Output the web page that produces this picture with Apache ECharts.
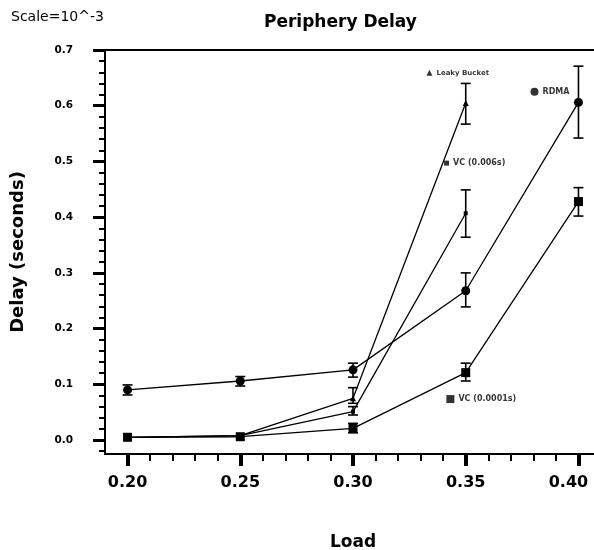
<!DOCTYPE html>
<html>
<head>
<meta charset="utf-8">
<script src="https://cdn.jsdelivr.net/npm/echarts@6/dist/echarts.min.js"></script>
<style>html,body{margin:0;padding:0;background:#fff}#c{width:594px;height:550px}</style>
</head>
<body>
<div id="c"></div>
<script>
// ---- data ----
const loads = [0.20, 0.25, 0.30, 0.35, 0.40];
const leaky = [0.005, 0.008, 0.075, 0.605, null];
const leakyLow = [null, null, 0.066, 0.567, null];
const leakyHigh = [null, null, 0.094, 0.640, null];
const vc006 = [0.005, 0.008, 0.051, 0.407, null];
const vc006Low = [null, null, 0.045, 0.364, null];
const vc006High = [null, null, 0.060, 0.449, null];
const rdma = [0.090, 0.106, 0.126, 0.268, 0.606];
const rdmaLow = [0.081, 0.097, 0.113, 0.239, 0.542];
const rdmaHigh = [0.099, 0.114, 0.138, 0.300, 0.671];
const vc0001 = [0.005, 0.006, 0.021, 0.121, 0.428];
const vc0001Low = [null, null, 0.013, 0.106, 0.402];
const vc0001High = [null, null, 0.030, 0.138, 0.453];
const seriesNames = ['Leaky Bucket', 'VC (0.006s)', 'RDMA', 'VC (0.0001s)'];
// in-plot legend annotation anchors (data coords)
const noteX = [0.3339, 0.3415, 0.3805, 0.3432];
const noteY = [0.659, 0.497, 0.625, 0.0736];
const xMajor = [0.20, 0.25, 0.30, 0.35, 0.40];
const xMinor = [0.21, 0.22, 0.23, 0.24, 0.26, 0.27, 0.28, 0.29, 0.31, 0.32, 0.33, 0.34, 0.36, 0.37, 0.38, 0.39, 0.41];
const yMajor = [0.0, 0.1, 0.2, 0.3, 0.4, 0.5, 0.6, 0.7];
const yMinor = [-0.02, 0.02, 0.04, 0.06, 0.08, 0.12, 0.14, 0.16, 0.18, 0.22, 0.24, 0.26, 0.28, 0.32, 0.34, 0.36, 0.38, 0.42, 0.44, 0.46, 0.48, 0.52, 0.54, 0.56, 0.58, 0.62, 0.64, 0.66, 0.68];

const F = 'DejaVu Sans';
const chart = echarts.init(document.getElementById('c'), null, {renderer: 'canvas'});

function pts(vals) { return loads.map((x, i) => vals[i] == null ? null : [x, vals[i]]).filter(p => p); }
function errs(lo, hi) { return loads.map((x, i) => lo[i] == null ? null : [x, lo[i], hi[i]]).filter(p => p); }

const symbols = ['triangle', 'rect', 'circle', 'rect'];
const sizes = [6, 4, 9, 9];
const vals = [leaky, vc006, rdma, vc0001];
const lows = [leakyLow, vc006Low, rdmaLow, vc0001Low];
const highs = [leakyHigh, vc006High, rdmaHigh, vc0001High];

const series = [];
vals.forEach((v, k) => {
  series.push({
    type: 'line', name: seriesNames[k], data: pts(v), xAxisIndex: 0, yAxisIndex: 0,
    symbol: symbols[k], symbolSize: sizes[k], showSymbol: true,
    lineStyle: {color: '#000', width: 1.3}, itemStyle: {color: '#000'}, z: 3, animation: false
  });
  series.push({
    type: 'custom', xAxisIndex: 0, yAxisIndex: 0, data: errs(lows[k], highs[k]), z: 4, animation: false,
    renderItem: function (params, api) {
      const x = api.value(0);
      const p1 = api.coord([x, api.value(1)]);
      const p2 = api.coord([x, api.value(2)]);
      const w = 5;
      return {
        type: 'group', children: [
          {type: 'line', shape: {x1: p1[0], y1: p1[1], x2: p2[0], y2: p2[1]}, style: {stroke: '#000', lineWidth: 1.6}},
          {type: 'line', shape: {x1: p1[0] - w, y1: p1[1], x2: p1[0] + w, y2: p1[1]}, style: {stroke: '#000', lineWidth: 1.6}},
          {type: 'line', shape: {x1: p2[0] - w, y1: p2[1], x2: p2[0] + w, y2: p2[1]}, style: {stroke: '#000', lineWidth: 1.6}}
        ]
      };
    }
  });
});
// in-plot legend notes
series.push({
  type: 'scatter', xAxisIndex: 0, yAxisIndex: 0, z: 5, animation: false,
  data: seriesNames.map((n, k) => ({
    value: [noteX[k], noteY[k]], symbol: symbols[k], symbolSize: k === 1 ? 5 : (k === 0 ? 6 : 8),
    label: {show: true, position: 'right', distance: 4, formatter: n, color: '#000',
      fontFamily: F, fontWeight: 'bold', fontSize: k === 0 ? 7 : 8}
  })),
  itemStyle: {color: '#000'}
});

const labelRich = {fontFamily: F, fontWeight: 'bold', fontSize: 16, color: '#000'};

const option = {
  backgroundColor: '#fff',
  animation: false,
  title: [
    {text: 'Periphery Delay', left: 259, top: 9, textStyle: {fontFamily: F, fontWeight: 'bold', fontSize: 17, color: '#000'}},
    {text: 'Scale=10^-3', left: 6, top: 5, textStyle: {fontFamily: F, fontWeight: 'normal', fontSize: 14, color: '#000'}}
  ],
  grid: {left: 105, right: -7, top: 50, bottom: 96, containLabel: false, outerBoundsMode: 'none'},
  xAxis: [
    {type: 'value', min: 0.19, max: 0.41, position: 'bottom',
      name: 'Load', nameLocation: 'middle', nameGap: 80,
      nameTextStyle: {fontFamily: F, fontWeight: 'bold', fontSize: 17, color: '#000'},
      axisLine: {show: true, onZero: false, lineStyle: {color: '#000', width: 2}},
      axisTick: {show: true, customValues: xMajor, length: 12, inside: false, lineStyle: {color: '#000', width: 4}},
      axisLabel: {show: true, customValues: xMajor, margin: 21,
        formatter: v => v > 0.395 ? '{last|' + v.toFixed(2) + '}' : v.toFixed(2),
        rich: {last: Object.assign({padding: [0, 20, 0, 0]}, labelRich)},
        fontFamily: F, fontWeight: 'bold', fontSize: 16, color: '#000'},
      splitLine: {show: false}},
    {type: 'value', min: 0.19, max: 0.41, position: 'bottom',
      axisLine: {show: false, onZero: false},
      axisTick: {show: true, customValues: xMinor, length: 7, lineStyle: {color: '#000', width: 2}},
      axisLabel: {show: false}, splitLine: {show: false}},
    {type: 'value', min: 0.19, max: 0.41, position: 'top',
      axisLine: {show: true, onZero: false, lineStyle: {color: '#000', width: 2}},
      axisTick: {show: false}, axisLabel: {show: false}, splitLine: {show: false}}
  ],
  yAxis: [
    {type: 'value', min: -0.025, max: 0.7, position: 'left',
      name: 'Delay (seconds)', nameLocation: 'middle', nameGap: 78, nameRotate: 90,
      nameTextStyle: {fontFamily: F, fontWeight: 'bold', fontSize: 18, color: '#000'},
      axisLine: {show: true, onZero: false, lineStyle: {color: '#000', width: 2}},
      axisTick: {show: true, customValues: yMajor, length: 12, lineStyle: {color: '#000', width: 3}},
      axisLabel: {show: true, customValues: yMajor, margin: 32, formatter: v => v.toFixed(1),
        fontFamily: F, fontWeight: 'bold', fontSize: 10.5, color: '#000'},
      splitLine: {show: false}},
    {type: 'value', min: -0.025, max: 0.7, position: 'left',
      axisLine: {show: false, onZero: false},
      axisTick: {show: true, customValues: yMinor, length: 6, lineStyle: {color: '#000', width: 2}},
      axisLabel: {show: false}, splitLine: {show: false}}
  ],
  series: series
};
chart.setOption(option);
</script>
</body>
</html>
